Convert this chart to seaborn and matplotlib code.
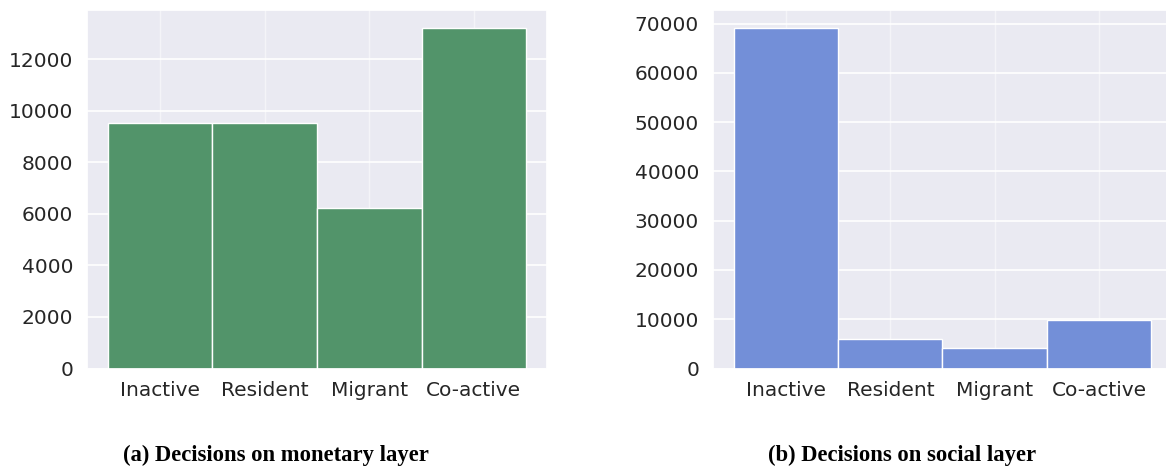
import matplotlib
matplotlib.use("Agg")
import matplotlib.pyplot as plt
import seaborn as sns
import pandas as pd

# Decision counts per category on each layer
categories = ["Inactive", "Resident", "Migrant", "Co-active"]
monetary_counts = [9510, 9510, 6240, 13230]
social_counts = [69190, 5900, 4210, 9830]

captions = ["(a) Decisions on monetary layer", "(b) Decisions on social layer"]

sns.set_theme(style="darkgrid")
plt.rcParams["font.family"] = ["DejaVu Sans"]

fig = plt.figure(figsize=(11.66, 4.69), dpi=100)
W, H = 1166, 469
ax1 = fig.add_axes([87 / W, (H - 368.5) / H, (547 - 87) / W, 358 / H])
ax2 = fig.add_axes([713 / W, (H - 368.5) / H, (1172 - 713) / W, 358 / H])

monetary = pd.DataFrame({"decision": categories, "count": monetary_counts})
social = pd.DataFrame({"decision": categories, "count": social_counts})

sns.histplot(data=monetary, x="decision", weights="count", discrete=True,
             shrink=1, color="#52946A", alpha=1, edgecolor="white",
             linewidth=1, ax=ax1)
sns.histplot(data=social, x="decision", weights="count", discrete=True,
             shrink=1, color="#738FD8", alpha=1, edgecolor="white",
             linewidth=1, ax=ax2)

for ax, cap in zip([ax1, ax2], captions):
    ax.set_xlabel("")
    ax.set_ylabel("")
    ax.tick_params(axis="both", labelsize=14.5, colors="#262626", length=0)
    ax.tick_params(axis="y", pad=10)
    ax.tick_params(axis="x", pad=9)
    ax.grid(axis="x", color="white", alpha=0.5, linewidth=1)
    ax.grid(axis="y", color="white", linewidth=1.2)

ax1.set_yticks([0, 2000, 4000, 6000, 8000, 10000, 12000])
ax2.set_yticks([0, 10000, 20000, 30000, 40000, 50000, 60000, 70000])

fig.text(276 / W, 1 - 455 / H, captions[0], ha="center", va="center",
         family="Liberation Serif", weight="bold", fontsize=16.3, color="black")
fig.text(902 / W, 1 - 455 / H, captions[1], ha="center", va="center",
         family="Liberation Serif", weight="bold", fontsize=16.3, color="black")

fig.savefig("out.png", dpi=100)
